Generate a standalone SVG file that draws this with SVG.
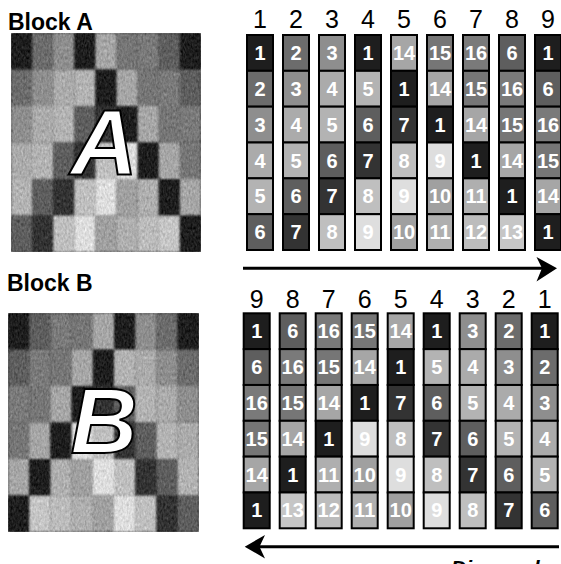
<svg xmlns="http://www.w3.org/2000/svg" width="561" height="564" viewBox="0 0 561 564">
<style>
.lbl{font-family:"Liberation Sans",Arial,sans-serif;font-weight:bold;font-size:23px;fill:#000}
.hd{font-family:"Liberation Sans",Arial,sans-serif;font-size:25px;fill:#000;text-anchor:middle}
.cell rect{stroke:#000;stroke-width:2}
.cell text{font-family:"Liberation Sans",Arial,sans-serif;font-weight:bold;font-size:20px;fill:#fff;text-anchor:middle}
.big{font-family:"Liberation Sans",Arial,sans-serif;font-weight:bold;font-style:italic;font-size:93px;fill:#fff;stroke:#000;stroke-width:2;text-anchor:middle}
.v1{fill:#1e1e1e}.v2{fill:#6c6c6c}.v3{fill:#8e8e8e}.v4{fill:#ababab}.v5{fill:#b3b3b3}.v6{fill:#5e5e5e}.v7{fill:#333}.v8{fill:#bfbfbf}
.v9{fill:#dedede}.v10{fill:#a0a0a0}.v11{fill:#afafaf}.v12{fill:#bcbcbc}.v13{fill:#c6c6c6}.v14{fill:#a6a6a6}.v15{fill:#767676}.v16{fill:#7a7a7a}
.conn line{stroke:#000;stroke-width:3}
.conn polygon{fill:#000}
</style>
<defs>
<filter id="tex" x="0" y="0" width="1" height="1" color-interpolation-filters="sRGB">
<feGaussianBlur in="SourceGraphic" stdDeviation="0.8" result="b"/>
<feTurbulence type="fractalNoise" baseFrequency="0.55 0.3" numOctaves="2" seed="4" result="n"/>
<feColorMatrix in="n" type="matrix" values="0.33 0.33 0.33 0 0 0.33 0.33 0.33 0 0 0.33 0.33 0.33 0 0 0 0 0 0 1" result="g"/>
<feComposite in="b" in2="g" operator="arithmetic" k1="0" k2="1" k3="0.45" k4="-0.225"/>
</filter>
</defs>
<rect width="561" height="564" fill="#fff"/>

<text class="lbl" x="8" y="30">Block A</text>
<text class="lbl" x="7" y="291">Block B</text>

<!-- Block A image -->
<g id="imageA" filter="url(#tex)">
<g transform="translate(11,33)">
<rect class="v1" x="0" y="0" width="21.2" height="36.6"/><rect class="v2" x="0" y="36.5" width="21.2" height="36.6"/><rect class="v3" x="0" y="73" width="21.2" height="36.6"/><rect class="v4" x="0" y="109.5" width="21.2" height="36.6"/><rect class="v5" x="0" y="146" width="21.2" height="36.6"/><rect class="v6" x="0" y="182.5" width="21.2" height="36.5"/>
<rect class="v2" x="21.1" y="0" width="21.2" height="36.6"/><rect class="v3" x="21.1" y="36.5" width="21.2" height="36.6"/><rect class="v4" x="21.1" y="73" width="21.2" height="36.6"/><rect class="v5" x="21.1" y="109.5" width="21.2" height="36.6"/><rect class="v6" x="21.1" y="146" width="21.2" height="36.6"/><rect class="v7" x="21.1" y="182.5" width="21.2" height="36.5"/>
<rect class="v3" x="42.2" y="0" width="21.2" height="36.6"/><rect class="v4" x="42.2" y="36.5" width="21.2" height="36.6"/><rect class="v5" x="42.2" y="73" width="21.2" height="36.6"/><rect class="v6" x="42.2" y="109.5" width="21.2" height="36.6"/><rect class="v7" x="42.2" y="146" width="21.2" height="36.6"/><rect class="v8" x="42.2" y="182.5" width="21.2" height="36.5"/>
<rect class="v1" x="63.3" y="0" width="21.2" height="36.6"/><rect class="v5" x="63.3" y="36.5" width="21.2" height="36.6"/><rect class="v6" x="63.3" y="73" width="21.2" height="36.6"/><rect class="v7" x="63.3" y="109.5" width="21.2" height="36.6"/><rect class="v8" x="63.3" y="146" width="21.2" height="36.6"/><rect class="v9" x="63.3" y="182.5" width="21.2" height="36.5"/>
<rect class="v14" x="84.4" y="0" width="21.2" height="36.6"/><rect class="v1" x="84.4" y="36.5" width="21.2" height="36.6"/><rect class="v7" x="84.4" y="73" width="21.2" height="36.6"/><rect class="v8" x="84.4" y="109.5" width="21.2" height="36.6"/><rect class="v9" x="84.4" y="146" width="21.2" height="36.6"/><rect class="v10" x="84.4" y="182.5" width="21.2" height="36.5"/>
<rect class="v15" x="105.5" y="0" width="21.2" height="36.6"/><rect class="v14" x="105.5" y="36.5" width="21.2" height="36.6"/><rect class="v1" x="105.5" y="73" width="21.2" height="36.6"/><rect class="v9" x="105.5" y="109.5" width="21.2" height="36.6"/><rect class="v10" x="105.5" y="146" width="21.2" height="36.6"/><rect class="v11" x="105.5" y="182.5" width="21.2" height="36.5"/>
<rect class="v16" x="126.6" y="0" width="21.2" height="36.6"/><rect class="v15" x="126.6" y="36.5" width="21.2" height="36.6"/><rect class="v14" x="126.6" y="73" width="21.2" height="36.6"/><rect class="v1" x="126.6" y="109.5" width="21.2" height="36.6"/><rect class="v11" x="126.6" y="146" width="21.2" height="36.6"/><rect class="v12" x="126.6" y="182.5" width="21.2" height="36.5"/>
<rect class="v6" x="147.7" y="0" width="21.2" height="36.6"/><rect class="v16" x="147.7" y="36.5" width="21.2" height="36.6"/><rect class="v15" x="147.7" y="73" width="21.2" height="36.6"/><rect class="v14" x="147.7" y="109.5" width="21.2" height="36.6"/><rect class="v1" x="147.7" y="146" width="21.2" height="36.6"/><rect class="v13" x="147.7" y="182.5" width="21.2" height="36.5"/>
<rect class="v1" x="168.8" y="0" width="21.2" height="36.6"/><rect class="v6" x="168.8" y="36.5" width="21.2" height="36.6"/><rect class="v16" x="168.8" y="73" width="21.2" height="36.6"/><rect class="v15" x="168.8" y="109.5" width="21.2" height="36.6"/><rect class="v14" x="168.8" y="146" width="21.2" height="36.6"/><rect class="v1" x="168.8" y="182.5" width="21.2" height="36.5"/>
</g>
</g>
<text class="big" x="104" y="174">A</text>

<!-- Block B image -->
<g id="imageB" filter="url(#tex)">
<g transform="translate(8,313)">
<rect class="v1" x="0" y="0" width="21.3" height="36.6"/><rect class="v6" x="0" y="36.5" width="21.3" height="36.6"/><rect class="v16" x="0" y="73" width="21.3" height="36.6"/><rect class="v15" x="0" y="109.5" width="21.3" height="36.6"/><rect class="v14" x="0" y="146" width="21.3" height="36.6"/><rect class="v1" x="0" y="182.5" width="21.3" height="36.5"/>
<rect class="v6" x="21.2" y="0" width="21.3" height="36.6"/><rect class="v16" x="21.2" y="36.5" width="21.3" height="36.6"/><rect class="v15" x="21.2" y="73" width="21.3" height="36.6"/><rect class="v14" x="21.2" y="109.5" width="21.3" height="36.6"/><rect class="v1" x="21.2" y="146" width="21.3" height="36.6"/><rect class="v13" x="21.2" y="182.5" width="21.3" height="36.5"/>
<rect class="v16" x="42.4" y="0" width="21.3" height="36.6"/><rect class="v15" x="42.4" y="36.5" width="21.3" height="36.6"/><rect class="v14" x="42.4" y="73" width="21.3" height="36.6"/><rect class="v1" x="42.4" y="109.5" width="21.3" height="36.6"/><rect class="v11" x="42.4" y="146" width="21.3" height="36.6"/><rect class="v12" x="42.4" y="182.5" width="21.3" height="36.5"/>
<rect class="v15" x="63.6" y="0" width="21.3" height="36.6"/><rect class="v14" x="63.6" y="36.5" width="21.3" height="36.6"/><rect class="v1" x="63.6" y="73" width="21.3" height="36.6"/><rect class="v9" x="63.6" y="109.5" width="21.3" height="36.6"/><rect class="v10" x="63.6" y="146" width="21.3" height="36.6"/><rect class="v11" x="63.6" y="182.5" width="21.3" height="36.5"/>
<rect class="v14" x="84.8" y="0" width="21.3" height="36.6"/><rect class="v1" x="84.8" y="36.5" width="21.3" height="36.6"/><rect class="v7" x="84.8" y="73" width="21.3" height="36.6"/><rect class="v8" x="84.8" y="109.5" width="21.3" height="36.6"/><rect class="v9" x="84.8" y="146" width="21.3" height="36.6"/><rect class="v10" x="84.8" y="182.5" width="21.3" height="36.5"/>
<rect class="v1" x="106" y="0" width="21.3" height="36.6"/><rect class="v5" x="106" y="36.5" width="21.3" height="36.6"/><rect class="v6" x="106" y="73" width="21.3" height="36.6"/><rect class="v7" x="106" y="109.5" width="21.3" height="36.6"/><rect class="v8" x="106" y="146" width="21.3" height="36.6"/><rect class="v9" x="106" y="182.5" width="21.3" height="36.5"/>
<rect class="v3" x="127.2" y="0" width="21.3" height="36.6"/><rect class="v4" x="127.2" y="36.5" width="21.3" height="36.6"/><rect class="v5" x="127.2" y="73" width="21.3" height="36.6"/><rect class="v6" x="127.2" y="109.5" width="21.3" height="36.6"/><rect class="v7" x="127.2" y="146" width="21.3" height="36.6"/><rect class="v8" x="127.2" y="182.5" width="21.3" height="36.5"/>
<rect class="v2" x="148.4" y="0" width="21.3" height="36.6"/><rect class="v3" x="148.4" y="36.5" width="21.3" height="36.6"/><rect class="v4" x="148.4" y="73" width="21.3" height="36.6"/><rect class="v5" x="148.4" y="109.5" width="21.3" height="36.6"/><rect class="v6" x="148.4" y="146" width="21.3" height="36.6"/><rect class="v7" x="148.4" y="182.5" width="21.3" height="36.5"/>
<rect class="v1" x="169.6" y="0" width="21.4" height="36.6"/><rect class="v2" x="169.6" y="36.5" width="21.4" height="36.6"/><rect class="v3" x="169.6" y="73" width="21.4" height="36.6"/><rect class="v4" x="169.6" y="109.5" width="21.4" height="36.6"/><rect class="v5" x="169.6" y="146" width="21.4" height="36.6"/><rect class="v6" x="169.6" y="182.5" width="21.4" height="36.5"/>
</g>
</g>
<text class="big" x="104" y="453">B</text>

<!-- Top headers -->
<g id="headersA">
<text class="hd" x="260" y="28">1</text><text class="hd" x="296" y="28">2</text><text class="hd" x="332" y="28">3</text><text class="hd" x="368" y="28">4</text><text class="hd" x="404" y="28">5</text><text class="hd" x="440" y="28">6</text><text class="hd" x="476" y="28">7</text><text class="hd" x="512" y="28">8</text><text class="hd" x="548" y="28">9</text>
</g>

<!-- Top grid columns -->
<g id="A-col1" class="cell" transform="translate(247,35)">
<rect class="v1" x="0" y="0" width="26" height="35.83"/><text x="13" y="25">1</text>
<rect class="v2" x="0" y="35.83" width="26" height="35.83"/><text x="13" y="60.8">2</text>
<rect class="v3" x="0" y="71.67" width="26" height="35.83"/><text x="13" y="96.7">3</text>
<rect class="v4" x="0" y="107.5" width="26" height="35.83"/><text x="13" y="132.5">4</text>
<rect class="v5" x="0" y="143.33" width="26" height="35.83"/><text x="13" y="168.3">5</text>
<rect class="v6" x="0" y="179.17" width="26" height="35.83"/><text x="13" y="204.2">6</text>
</g>
<g id="A-col2" class="cell" transform="translate(283,35)">
<rect class="v2" x="0" y="0" width="26" height="35.83"/><text x="13" y="25">2</text>
<rect class="v3" x="0" y="35.83" width="26" height="35.83"/><text x="13" y="60.8">3</text>
<rect class="v4" x="0" y="71.67" width="26" height="35.83"/><text x="13" y="96.7">4</text>
<rect class="v5" x="0" y="107.5" width="26" height="35.83"/><text x="13" y="132.5">5</text>
<rect class="v6" x="0" y="143.33" width="26" height="35.83"/><text x="13" y="168.3">6</text>
<rect class="v7" x="0" y="179.17" width="26" height="35.83"/><text x="13" y="204.2">7</text>
</g>
<g id="A-col3" class="cell" transform="translate(319,35)">
<rect class="v3" x="0" y="0" width="26" height="35.83"/><text x="13" y="25">3</text>
<rect class="v4" x="0" y="35.83" width="26" height="35.83"/><text x="13" y="60.8">4</text>
<rect class="v5" x="0" y="71.67" width="26" height="35.83"/><text x="13" y="96.7">5</text>
<rect class="v6" x="0" y="107.5" width="26" height="35.83"/><text x="13" y="132.5">6</text>
<rect class="v7" x="0" y="143.33" width="26" height="35.83"/><text x="13" y="168.3">7</text>
<rect class="v8" x="0" y="179.17" width="26" height="35.83"/><text x="13" y="204.2">8</text>
</g>
<g id="A-col4" class="cell" transform="translate(355,35)">
<rect class="v1" x="0" y="0" width="26" height="35.83"/><text x="13" y="25">1</text>
<rect class="v5" x="0" y="35.83" width="26" height="35.83"/><text x="13" y="60.8">5</text>
<rect class="v6" x="0" y="71.67" width="26" height="35.83"/><text x="13" y="96.7">6</text>
<rect class="v7" x="0" y="107.5" width="26" height="35.83"/><text x="13" y="132.5">7</text>
<rect class="v8" x="0" y="143.33" width="26" height="35.83"/><text x="13" y="168.3">8</text>
<rect class="v9" x="0" y="179.17" width="26" height="35.83"/><text x="13" y="204.2">9</text>
</g>
<g id="A-col5" class="cell" transform="translate(391,35)">
<rect class="v14" x="0" y="0" width="26" height="35.83"/><text x="13" y="25">14</text>
<rect class="v1" x="0" y="35.83" width="26" height="35.83"/><text x="13" y="60.8">1</text>
<rect class="v7" x="0" y="71.67" width="26" height="35.83"/><text x="13" y="96.7">7</text>
<rect class="v8" x="0" y="107.5" width="26" height="35.83"/><text x="13" y="132.5">8</text>
<rect class="v9" x="0" y="143.33" width="26" height="35.83"/><text x="13" y="168.3">9</text>
<rect class="v10" x="0" y="179.17" width="26" height="35.83"/><text x="13" y="204.2">10</text>
</g>
<g id="A-col6" class="cell" transform="translate(427,35)">
<rect class="v15" x="0" y="0" width="26" height="35.83"/><text x="13" y="25">15</text>
<rect class="v14" x="0" y="35.83" width="26" height="35.83"/><text x="13" y="60.8">14</text>
<rect class="v1" x="0" y="71.67" width="26" height="35.83"/><text x="13" y="96.7">1</text>
<rect class="v9" x="0" y="107.5" width="26" height="35.83"/><text x="13" y="132.5">9</text>
<rect class="v10" x="0" y="143.33" width="26" height="35.83"/><text x="13" y="168.3">10</text>
<rect class="v11" x="0" y="179.17" width="26" height="35.83"/><text x="13" y="204.2">11</text>
</g>
<g id="A-col7" class="cell" transform="translate(463,35)">
<rect class="v16" x="0" y="0" width="26" height="35.83"/><text x="13" y="25">16</text>
<rect class="v15" x="0" y="35.83" width="26" height="35.83"/><text x="13" y="60.8">15</text>
<rect class="v14" x="0" y="71.67" width="26" height="35.83"/><text x="13" y="96.7">14</text>
<rect class="v1" x="0" y="107.5" width="26" height="35.83"/><text x="13" y="132.5">1</text>
<rect class="v11" x="0" y="143.33" width="26" height="35.83"/><text x="13" y="168.3">11</text>
<rect class="v12" x="0" y="179.17" width="26" height="35.83"/><text x="13" y="204.2">12</text>
</g>
<g id="A-col8" class="cell" transform="translate(499,35)">
<rect class="v6" x="0" y="0" width="26" height="35.83"/><text x="13" y="25">6</text>
<rect class="v16" x="0" y="35.83" width="26" height="35.83"/><text x="13" y="60.8">16</text>
<rect class="v15" x="0" y="71.67" width="26" height="35.83"/><text x="13" y="96.7">15</text>
<rect class="v14" x="0" y="107.5" width="26" height="35.83"/><text x="13" y="132.5">14</text>
<rect class="v1" x="0" y="143.33" width="26" height="35.83"/><text x="13" y="168.3">1</text>
<rect class="v13" x="0" y="179.17" width="26" height="35.83"/><text x="13" y="204.2">13</text>
</g>
<g id="A-col9" class="cell" transform="translate(535,35)">
<rect class="v1" x="0" y="0" width="26" height="35.83"/><text x="13" y="25">1</text>
<rect class="v6" x="0" y="35.83" width="26" height="35.83"/><text x="13" y="60.8">6</text>
<rect class="v16" x="0" y="71.67" width="26" height="35.83"/><text x="13" y="96.7">16</text>
<rect class="v15" x="0" y="107.5" width="26" height="35.83"/><text x="13" y="132.5">15</text>
<rect class="v14" x="0" y="143.33" width="26" height="35.83"/><text x="13" y="168.3">14</text>
<rect class="v1" x="0" y="179.17" width="26" height="35.83"/><text x="13" y="204.2">1</text>
</g>

<!-- Bottom headers -->
<g id="headersB">
<text class="hd" x="256.7" y="308">9</text><text class="hd" x="292.7" y="308">8</text><text class="hd" x="328.7" y="308">7</text><text class="hd" x="364.7" y="308">6</text><text class="hd" x="400.7" y="308">5</text><text class="hd" x="436.7" y="308">4</text><text class="hd" x="472.7" y="308">3</text><text class="hd" x="508.7" y="308">2</text><text class="hd" x="544.7" y="308">1</text>
</g>

<!-- Bottom grid columns -->
<g id="B-col9" class="cell" transform="translate(243.7,313.3)">
<rect class="v1" x="0" y="0" width="26" height="35.83"/><text x="13" y="25">1</text>
<rect class="v6" x="0" y="35.83" width="26" height="35.83"/><text x="13" y="60.8">6</text>
<rect class="v16" x="0" y="71.67" width="26" height="35.83"/><text x="13" y="96.7">16</text>
<rect class="v15" x="0" y="107.5" width="26" height="35.83"/><text x="13" y="132.5">15</text>
<rect class="v14" x="0" y="143.33" width="26" height="35.83"/><text x="13" y="168.3">14</text>
<rect class="v1" x="0" y="179.17" width="26" height="35.83"/><text x="13" y="204.2">1</text>
</g>
<g id="B-col8" class="cell" transform="translate(279.7,313.3)">
<rect class="v6" x="0" y="0" width="26" height="35.83"/><text x="13" y="25">6</text>
<rect class="v16" x="0" y="35.83" width="26" height="35.83"/><text x="13" y="60.8">16</text>
<rect class="v15" x="0" y="71.67" width="26" height="35.83"/><text x="13" y="96.7">15</text>
<rect class="v14" x="0" y="107.5" width="26" height="35.83"/><text x="13" y="132.5">14</text>
<rect class="v1" x="0" y="143.33" width="26" height="35.83"/><text x="13" y="168.3">1</text>
<rect class="v13" x="0" y="179.17" width="26" height="35.83"/><text x="13" y="204.2">13</text>
</g>
<g id="B-col7" class="cell" transform="translate(315.7,313.3)">
<rect class="v16" x="0" y="0" width="26" height="35.83"/><text x="13" y="25">16</text>
<rect class="v15" x="0" y="35.83" width="26" height="35.83"/><text x="13" y="60.8">15</text>
<rect class="v14" x="0" y="71.67" width="26" height="35.83"/><text x="13" y="96.7">14</text>
<rect class="v1" x="0" y="107.5" width="26" height="35.83"/><text x="13" y="132.5">1</text>
<rect class="v11" x="0" y="143.33" width="26" height="35.83"/><text x="13" y="168.3">11</text>
<rect class="v12" x="0" y="179.17" width="26" height="35.83"/><text x="13" y="204.2">12</text>
</g>
<g id="B-col6" class="cell" transform="translate(351.7,313.3)">
<rect class="v15" x="0" y="0" width="26" height="35.83"/><text x="13" y="25">15</text>
<rect class="v14" x="0" y="35.83" width="26" height="35.83"/><text x="13" y="60.8">14</text>
<rect class="v1" x="0" y="71.67" width="26" height="35.83"/><text x="13" y="96.7">1</text>
<rect class="v9" x="0" y="107.5" width="26" height="35.83"/><text x="13" y="132.5">9</text>
<rect class="v10" x="0" y="143.33" width="26" height="35.83"/><text x="13" y="168.3">10</text>
<rect class="v11" x="0" y="179.17" width="26" height="35.83"/><text x="13" y="204.2">11</text>
</g>
<g id="B-col5" class="cell" transform="translate(387.7,313.3)">
<rect class="v14" x="0" y="0" width="26" height="35.83"/><text x="13" y="25">14</text>
<rect class="v1" x="0" y="35.83" width="26" height="35.83"/><text x="13" y="60.8">1</text>
<rect class="v7" x="0" y="71.67" width="26" height="35.83"/><text x="13" y="96.7">7</text>
<rect class="v8" x="0" y="107.5" width="26" height="35.83"/><text x="13" y="132.5">8</text>
<rect class="v9" x="0" y="143.33" width="26" height="35.83"/><text x="13" y="168.3">9</text>
<rect class="v10" x="0" y="179.17" width="26" height="35.83"/><text x="13" y="204.2">10</text>
</g>
<g id="B-col4" class="cell" transform="translate(423.7,313.3)">
<rect class="v1" x="0" y="0" width="26" height="35.83"/><text x="13" y="25">1</text>
<rect class="v5" x="0" y="35.83" width="26" height="35.83"/><text x="13" y="60.8">5</text>
<rect class="v6" x="0" y="71.67" width="26" height="35.83"/><text x="13" y="96.7">6</text>
<rect class="v7" x="0" y="107.5" width="26" height="35.83"/><text x="13" y="132.5">7</text>
<rect class="v8" x="0" y="143.33" width="26" height="35.83"/><text x="13" y="168.3">8</text>
<rect class="v9" x="0" y="179.17" width="26" height="35.83"/><text x="13" y="204.2">9</text>
</g>
<g id="B-col3" class="cell" transform="translate(459.7,313.3)">
<rect class="v3" x="0" y="0" width="26" height="35.83"/><text x="13" y="25">3</text>
<rect class="v4" x="0" y="35.83" width="26" height="35.83"/><text x="13" y="60.8">4</text>
<rect class="v5" x="0" y="71.67" width="26" height="35.83"/><text x="13" y="96.7">5</text>
<rect class="v6" x="0" y="107.5" width="26" height="35.83"/><text x="13" y="132.5">6</text>
<rect class="v7" x="0" y="143.33" width="26" height="35.83"/><text x="13" y="168.3">7</text>
<rect class="v8" x="0" y="179.17" width="26" height="35.83"/><text x="13" y="204.2">8</text>
</g>
<g id="B-col2" class="cell" transform="translate(495.7,313.3)">
<rect class="v2" x="0" y="0" width="26" height="35.83"/><text x="13" y="25">2</text>
<rect class="v3" x="0" y="35.83" width="26" height="35.83"/><text x="13" y="60.8">3</text>
<rect class="v4" x="0" y="71.67" width="26" height="35.83"/><text x="13" y="96.7">4</text>
<rect class="v5" x="0" y="107.5" width="26" height="35.83"/><text x="13" y="132.5">5</text>
<rect class="v6" x="0" y="143.33" width="26" height="35.83"/><text x="13" y="168.3">6</text>
<rect class="v7" x="0" y="179.17" width="26" height="35.83"/><text x="13" y="204.2">7</text>
</g>
<g id="B-col1" class="cell" transform="translate(531.7,313.3)">
<rect class="v1" x="0" y="0" width="26" height="35.83"/><text x="13" y="25">1</text>
<rect class="v2" x="0" y="35.83" width="26" height="35.83"/><text x="13" y="60.8">2</text>
<rect class="v3" x="0" y="71.67" width="26" height="35.83"/><text x="13" y="96.7">3</text>
<rect class="v4" x="0" y="107.5" width="26" height="35.83"/><text x="13" y="132.5">4</text>
<rect class="v5" x="0" y="143.33" width="26" height="35.83"/><text x="13" y="168.3">5</text>
<rect class="v6" x="0" y="179.17" width="26" height="35.83"/><text x="13" y="204.2">6</text>
</g>

<!-- Connectors (arrows) -->
<g id="connectors" class="conn">
<line x1="243" y1="268.3" x2="542" y2="268.3"/>
<polygon points="557,268.3 536.5,257 542,268.3 536.5,281.5"/>
<line x1="259" y1="546.7" x2="559" y2="546.7"/>
<polygon points="244.7,546.7 265,535 259.5,546.7 265,558.5"/>
</g>

<text x="451" y="574.5" font-family="'Liberation Sans',Arial,sans-serif" font-weight="bold" font-style="italic" font-size="21">Diagonal</text>
</svg>
